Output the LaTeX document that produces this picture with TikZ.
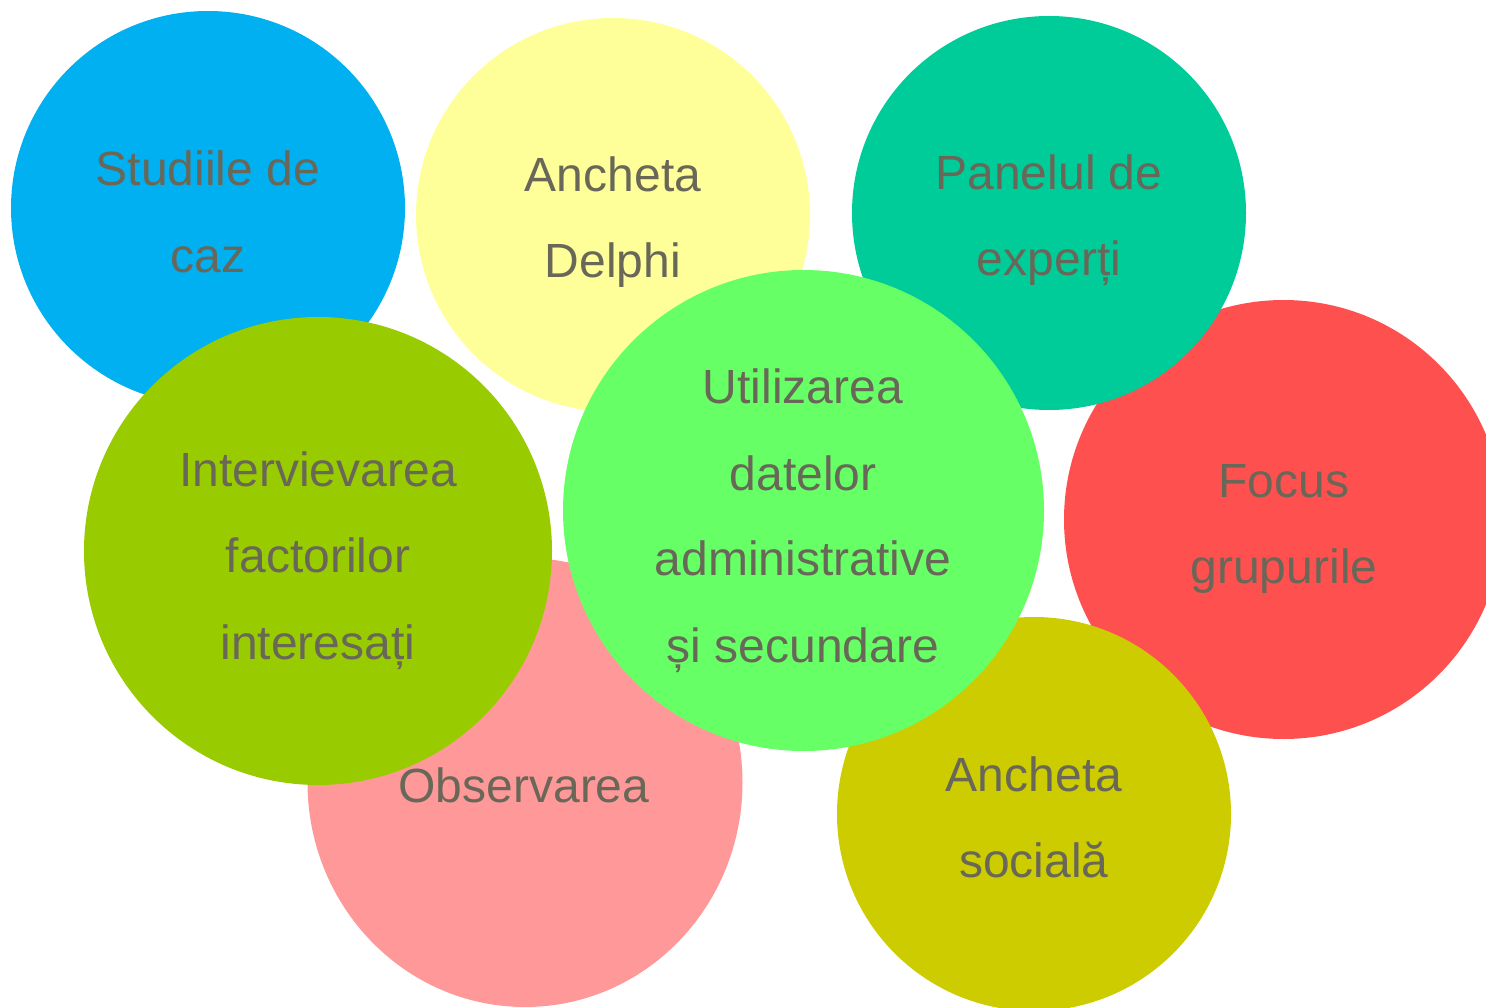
\documentclass[tikz,border=0pt]{standalone}
\usepackage{fontspec}
\usetikzlibrary{shapes.geometric}
\setmainfont{Liberation Sans}
\definecolor{cBlue}{HTML}{00B0F0}
\definecolor{cYellow}{HTML}{FFFF99}
\definecolor{cTeal}{HTML}{00CC99}
\definecolor{cRed}{HTML}{FF5050}
\definecolor{cOlive}{HTML}{CCCC00}
\definecolor{cPink}{HTML}{FF9999}
\definecolor{cGreen}{HTML}{99CC00}
\definecolor{cLime}{HTML}{66FF66}
\definecolor{cText}{RGB}{105,103,88}
\tikzset{
  bubble/.style={circle, inner sep=0pt, draw=none, minimum size=#1},
  lbl/.style={anchor=base, inner sep=0pt, text=cText, font=\fontsize{48}{58}\selectfont}
}
\begin{document}
\begin{tikzpicture}[x=1pt,y=-1pt]
\useasboundingbox (0,0) rectangle (1486,1008);
\clip (0,0) rectangle (1486,1008);
\fill[white] (0,0) rectangle (1486,1008);
% circles
\node[bubble=394pt, fill=cBlue]   (studii)  at (208,208) {};
\node[bubble=394pt, fill=cYellow] (delphi)  at (613,215) {};
\node[bubble=439pt, fill=cRed]    (focus)   at (1283.5,519.5) {};
\node[bubble=394pt, fill=cTeal]   (panel)   at (1049,213) {};
\node[bubble=394pt, fill=cOlive]  (social)  at (1034,814) {};
\node[ellipse, inner sep=0pt, draw=none, minimum width=435pt, minimum height=449pt, fill=cPink] (observ) at (525,782.5) {};
\node[bubble=468pt, fill=cGreen]  (interv)  at (318,551) {};
\node[bubble=481pt, fill=cLime]   (utiliz)  at (803.5,510.5) {};
% labels
\node[lbl] (studiiA) at (208,186) {Studiile de};
\node[lbl] (studiiB) at (208,273) {caz};
\node[lbl] (delphiA) at (613,192) {Ancheta};
\node[lbl] (delphiB) at (613,278) {Delphi};
\node[lbl] (panelA) at (1049,190) {Panelul de};
\node[lbl] (panelB) at (1049,276) {experți};
\node[lbl] (focusA) at (1284,497) {Focus};
\node[lbl] (focusB) at (1284,583) {grupurile};
\node[lbl] (socialA) at (1034,791) {Ancheta};
\node[lbl] (socialB) at (1034,877) {socială};
\node[lbl] (observA) at (524,802) {Observarea};
\node[lbl] (intervA) at (318,486) {Intervievarea};
\node[lbl] (intervB) at (318,572) {factorilor};
\node[lbl] (intervC) at (318,659) {interesați};
\node[lbl] (utilizA) at (803,403) {Utilizarea};
\node[lbl] (utilizB) at (803,490) {datelor};
\node[lbl] (utilizC) at (803,575) {administrative};
\node[lbl] (utilizD) at (803,662) {și secundare};
\end{tikzpicture}
\end{document}
